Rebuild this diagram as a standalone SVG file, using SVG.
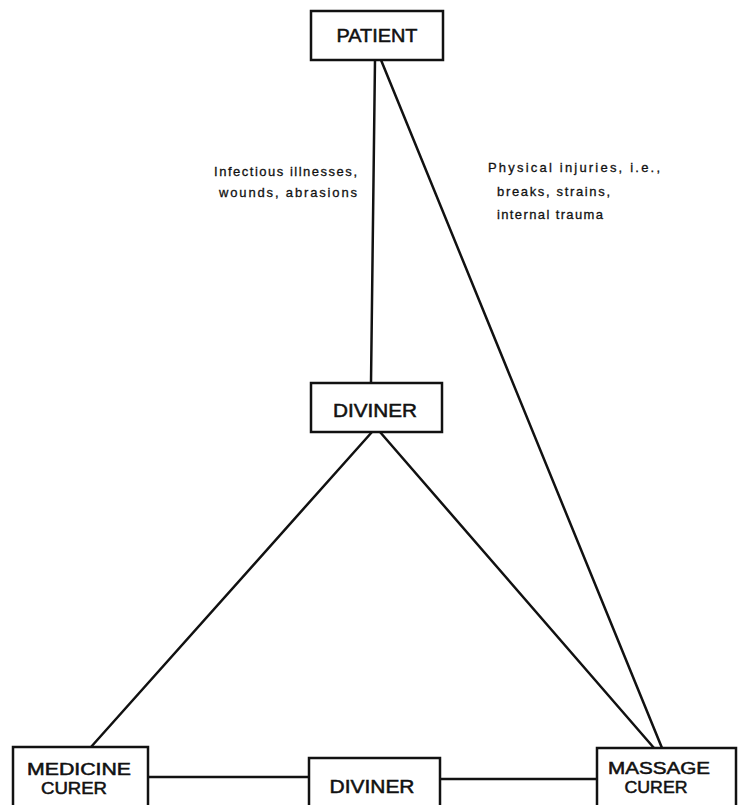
<svg xmlns="http://www.w3.org/2000/svg" width="741" height="805" viewBox="0 0 741 805">
<style>
.box{fill:#fff;stroke:#111;stroke-width:2.5}
.edge{stroke:#111;stroke-width:2.5;fill:none;stroke-linecap:round}
.lbl{font-family:"Liberation Sans",Arial,sans-serif;font-size:18px;fill:#111;stroke:#111;stroke-width:0.5;text-anchor:middle}
.lbl2{font-size:16px}
.note{font-family:"Liberation Sans",Arial,sans-serif;font-size:13px;fill:#111;stroke:#111;stroke-width:0.3}
</style>
<rect width="741" height="805" fill="#fff"/>
<g id="connectors">
<line class="edge" x1="375" y1="60" x2="371" y2="383"/>
<line class="edge" x1="381" y1="60" x2="662" y2="748"/>
<line class="edge" x1="372" y1="432" x2="91" y2="747"/>
<line class="edge" x1="380" y1="432" x2="654" y2="748"/>
<line class="edge" x1="148" y1="777" x2="309" y2="777"/>
<line class="edge" x1="440" y1="779" x2="597" y2="779"/>
</g>
<g id="patient">
<rect class="box" x="311" y="11" width="132" height="49"/>
<text class="lbl" x="377" y="42" textLength="81" lengthAdjust="spacingAndGlyphs">PATIENT</text>
</g>
<g id="diviner-top">
<rect class="box" x="311" y="383" width="131" height="49"/>
<text class="lbl" x="375" y="417" textLength="84" lengthAdjust="spacingAndGlyphs">DIVINER</text>
</g>
<g id="medicine-curer">
<rect class="box" x="13" y="747" width="135" height="64"/>
<text class="lbl lbl2" x="79" y="775" textLength="104" lengthAdjust="spacingAndGlyphs">MEDICINE</text>
<text class="lbl lbl2" x="74" y="794" textLength="66" lengthAdjust="spacingAndGlyphs">CURER</text>
</g>
<g id="diviner-bottom">
<rect class="box" x="309" y="758" width="131" height="53"/>
<text class="lbl" x="372" y="793" textLength="85" lengthAdjust="spacingAndGlyphs">DIVINER</text>
</g>
<g id="massage-curer">
<rect class="box" x="597" y="748" width="139" height="63"/>
<text class="lbl lbl2" x="659" y="774" textLength="102" lengthAdjust="spacingAndGlyphs">MASSAGE</text>
<text class="lbl lbl2" x="656" y="793" textLength="63" lengthAdjust="spacingAndGlyphs">CURER</text>
</g>
<g id="labels">
<text class="note" x="214" y="176" textLength="143" lengthAdjust="spacing">Infectious illnesses,</text>
<text class="note" x="219" y="197" textLength="138" lengthAdjust="spacing">wounds, abrasions</text>
<text class="note" x="488" y="172" textLength="172" lengthAdjust="spacing">Physical injuries,  i.e.,</text>
<text class="note" x="497" y="196" textLength="113" lengthAdjust="spacing">breaks, strains,</text>
<text class="note" x="497" y="219" textLength="106" lengthAdjust="spacing">internal trauma</text>
</g>
</svg>
